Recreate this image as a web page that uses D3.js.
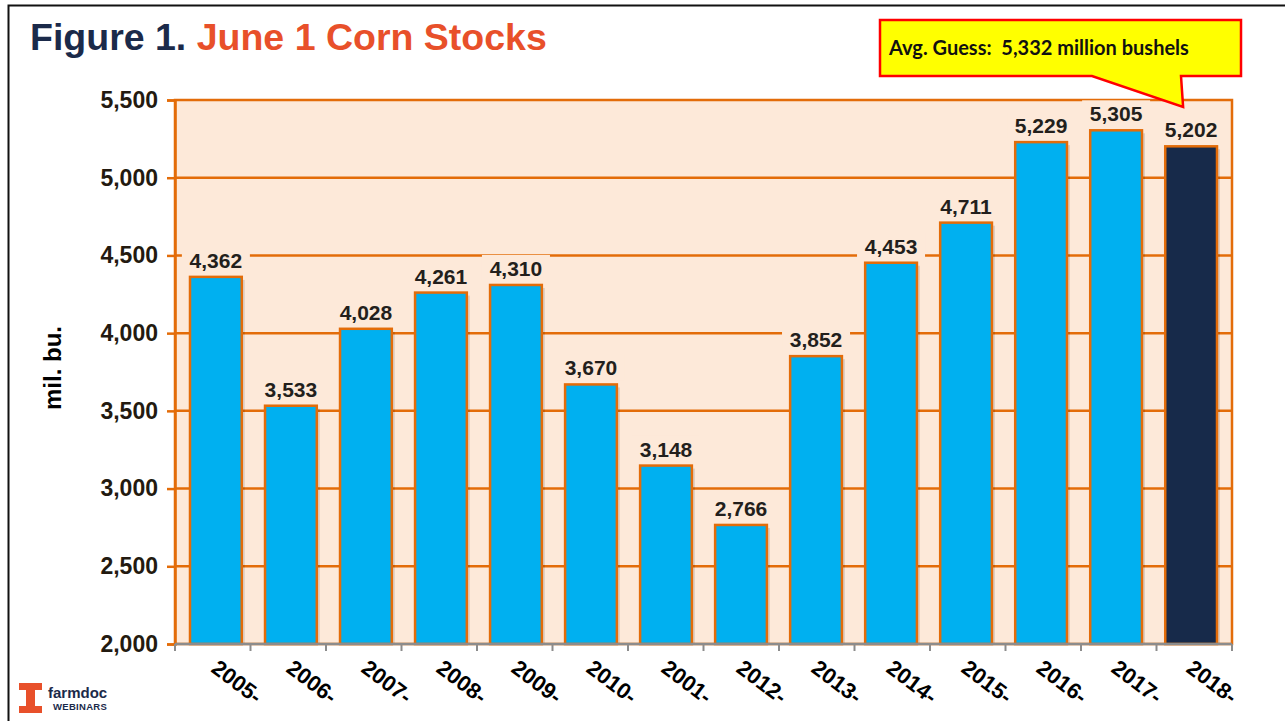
<!DOCTYPE html>
<html>
<head>
<meta charset="utf-8">
<script src="https://cdn.jsdelivr.net/npm/d3@7"></script>
<style>
  body { margin: 0; background: #fff; }
  svg { display: block; font-family: Arial, "Liberation Sans", sans-serif; }
</style>
</head>
<body>
<div id="chart"></div>
<script>
// June 1 corn stocks, million bushels
const years = [`2005-`, `2006-`, `2007-`, `2008-`, `2009-`, `2010-`, `2001-`, `2012-`, `2013-`, `2014-`, `2015-`, `2016-`, `2017-`, `2018-`];
const stocks = [4362, 3533, 4028, 4261, 4310, 3670, 3148, 2766, 3852, 4453, 4711, 5229, 5305, 5202];
const yTicks = [2000, 2500, 3000, 3500, 4000, 4500, 5000, 5500];
const avgGuess = 5332;

const width = 1285;
const height = 721;
const plot = { left: 175, right: 1232, top: 100, bottom: 644 };

const svg = d3
  .select(`#chart`)
  .append(`svg`)
  .attr(`width`, width)
  .attr(`height`, height);

// slide frame
svg.append(`rect`)
  .attr(`x`, 8.5).attr(`y`, 5.5)
  .attr(`width`, 1290).attr(`height`, 730)
  .attr(`fill`, `none`)
  .attr(`stroke`, `#111`)
  .attr(`stroke-width`, 2);

// title
const title = svg.append(`text`)
  .attr(`x`, 30).attr(`y`, 50)
  .style(`font-size`, `37.5px`)
  .style(`font-weight`, `bold`);
title.append(`tspan`).attr(`fill`, `#1b2a4a`).text(`Figure 1. `);
title.append(`tspan`).attr(`fill`, `#e8502a`).text(`June 1 Corn Stocks`);

const x = d3.scaleBand()
  .domain(years)
  .range([plot.left, plot.right])
  .paddingInner(0.31)
  .paddingOuter(0.2);

const y = d3.scaleLinear()
  .domain([2000, 5500])
  .range([plot.bottom, plot.top]);

// plot background
svg.append(`rect`)
  .attr(`x`, plot.left).attr(`y`, plot.top)
  .attr(`width`, plot.right - plot.left)
  .attr(`height`, plot.bottom - plot.top)
  .attr(`fill`, `#fde9d9`)
  .attr(`stroke`, `#e36c09`)
  .attr(`stroke-width`, 2.5);

// gridlines
svg.append(`g`)
  .selectAll(`line`)
  .data(yTicks.slice(1, -1))
  .enter()
  .append(`line`)
  .attr(`x1`, plot.left).attr(`x2`, plot.right)
  .attr(`y1`, (d) => y(d)).attr(`y2`, (d) => y(d))
  .attr(`stroke`, `#e36c09`)
  .attr(`stroke-width`, 2.5);

// y axis
const yAxis = svg.append(`g`)
  .attr(`transform`, `translate(${plot.left},0)`)
  .call(d3.axisLeft(y).tickValues(yTicks).tickFormat(d3.format(`,`)).tickSize(8).tickPadding(9));
yAxis.select(`.domain`).attr(`stroke`, `#e36c09`).attr(`stroke-width`, 2.5);
yAxis.selectAll(`.tick line`).attr(`stroke`, `#e36c09`).attr(`stroke-width`, 2.5);
yAxis.selectAll(`.tick text`)
  .attr(`fill`, `#231a10`)
  .style(`font-size`, `23px`)
  .style(`font-weight`, `bold`)
  .style(`font-family`, `Arial, "Liberation Sans", sans-serif`);

svg.append(`text`)
  .attr(`transform`, `translate(61,368) rotate(-90)`)
  .attr(`text-anchor`, `middle`)
  .attr(`fill`, `#000`)
  .style(`font-size`, `24px`)
  .style(`font-weight`, `bold`)
  .text(`mil. bu.`);

// bar shadows
svg.append(`g`)
  .selectAll(`rect`)
  .data(stocks)
  .enter()
  .append(`rect`)
  .attr(`x`, (d, i) => x(years[i]) + 3)
  .attr(`y`, (d) => y(d) + 3)
  .attr(`width`, x.bandwidth())
  .attr(`height`, (d) => plot.bottom - y(d) - 3)
  .attr(`fill`, `#000`)
  .attr(`opacity`, 0.12);

// bars
svg.append(`g`)
  .selectAll(`rect`)
  .data(stocks)
  .enter()
  .append(`rect`)
  .attr(`x`, (d, i) => x(years[i]))
  .attr(`y`, (d) => y(d))
  .attr(`width`, x.bandwidth())
  .attr(`height`, (d) => plot.bottom - y(d))
  .attr(`fill`, (d, i) => (i === stocks.length - 1 ? `#172a4a` : `#00b0f0`))
  .attr(`stroke`, `#e36c09`)
  .attr(`stroke-width`, 2.5);

// x axis (grey baseline with ticks between bars)
const xAxis = svg.append(`g`)
  .attr(`transform`, `translate(0,${plot.bottom})`);
xAxis.append(`line`)
  .attr(`x1`, plot.left).attr(`x2`, plot.right)
  .attr(`stroke`, `#8c8c8c`).attr(`stroke-width`, 2.5);
const tickX = (i) => plot.left + (i * (plot.right - plot.left)) / years.length;
xAxis.selectAll(`line.tick`)
  .data(d3.range(years.length + 1))
  .enter()
  .append(`line`)
  .attr(`class`, `tick`)
  .attr(`x1`, tickX)
  .attr(`x2`, tickX)
  .attr(`y1`, 0).attr(`y2`, 7)
  .attr(`stroke`, `#8c8c8c`).attr(`stroke-width`, 2);

xAxis.selectAll(`text`)
  .data(years)
  .enter()
  .append(`text`)
  .attr(`transform`, (d) => `translate(${x(d) + x.bandwidth() / 2 - 6},${27}) rotate(37)`)
  .attr(`fill`, `#000`)
  .style(`font-size`, `22px`)
  .style(`font-weight`, `bold`)
  .text((d) => d);

// value labels with peach backing
const labels = svg.append(`g`)
  .selectAll(`g`)
  .data(stocks)
  .enter()
  .append(`g`)
  .attr(`transform`, (d, i) => `translate(${x(years[i]) + x.bandwidth() / 2},${y(d) - 9})`);
labels.append(`rect`)
  .attr(`x`, -34).attr(`y`, -21)
  .attr(`width`, 68).attr(`height`, 26)
  .attr(`fill`, `#fde9d9`);
labels.append(`text`)
  .attr(`text-anchor`, `middle`)
  .attr(`fill`, `#231f1c`)
  .style(`font-size`, `21px`)
  .style(`font-weight`, `bold`)
  .text((d) => d3.format(`,`)(d));

// callout with average trade guess
const lastX = x(years[years.length - 1]) + x.bandwidth() / 2;
const box = { x: 880, y: 20, w: 361, h: 56 };
const callout = `M${box.x},${box.y} H${box.x + box.w} V${box.y + box.h} H1181 L${lastX - 8},107 L1092,${box.y + box.h} H${box.x} Z`;
svg.append(`path`)
  .attr(`d`, callout)
  .attr(`fill`, `#ffff00`)
  .attr(`stroke`, `#ff0000`)
  .attr(`stroke-width`, 2.5)
  .attr(`stroke-linejoin`, `miter`);
svg.append(`text`)
  .attr(`x`, 889).attr(`y`, 55)
  .attr(`fill`, `#111`)
  .style(`font-family`, `Lato, "Open Sans", sans-serif`)
  .style(`font-size`, `20px`)
  .style(`font-weight`, `bold`)
  .attr(`xml:space`, `preserve`)
  .text(`Avg. Guess:  ${d3.format(`,`)(avgGuess)} million bushels`);

// farmdoc logo
const logo = svg.append(`g`).attr(`transform`, `translate(19,683)`);
logo.append(`path`)
  .attr(`d`, `M0,0 H23 V7 H16 V23 H23 V30 H0 V23 H7 V7 H0 Z`)
  .attr(`fill`, `#e8502a`);
logo.append(`text`)
  .attr(`x`, 29).attr(`y`, 15)
  .attr(`fill`, `#1b2a4a`)
  .style(`font-size`, `15px`)
  .style(`font-weight`, `bold`)
  .text(`farmdoc`);
logo.append(`text`)
  .attr(`x`, 34).attr(`y`, 27)
  .attr(`fill`, `#1b2a4a`)
  .style(`font-size`, `9.5px`)
  .style(`font-weight`, `bold`)
  .style(`letter-spacing`, `0.3px`)
  .text(`WEBINARS`);
</script>
</body>
</html>
